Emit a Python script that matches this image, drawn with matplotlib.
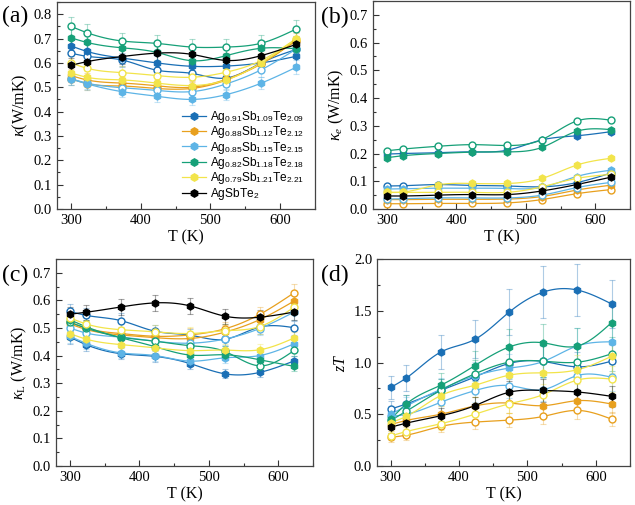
import numpy as np
import matplotlib
matplotlib.use('Agg')
import matplotlib.pyplot as plt
from matplotlib.ticker import MultipleLocator

plt.rcParams['font.family'] = ['Liberation Serif', 'DejaVu Serif']
plt.rcParams['mathtext.fontset'] = 'custom'
plt.rcParams['mathtext.rm'] = 'Liberation Serif'
plt.rcParams['mathtext.it'] = 'Liberation Serif:italic'
plt.rcParams['mathtext.sf'] = 'Liberation Sans'

# ---------------- data ----------------
T = [300, 323, 373, 423, 473, 523, 573, 623]

names = [r'Ag$_{\mathsf{0.91}}$Sb$_{\mathsf{1.09}}$Te$_{\mathsf{2.09}}$',
         r'Ag$_{\mathsf{0.88}}$Sb$_{\mathsf{1.12}}$Te$_{\mathsf{2.12}}$',
         r'Ag$_{\mathsf{0.85}}$Sb$_{\mathsf{1.15}}$Te$_{\mathsf{2.15}}$',
         r'Ag$_{\mathsf{0.82}}$Sb$_{\mathsf{1.18}}$Te$_{\mathsf{2.18}}$',
         r'Ag$_{\mathsf{0.79}}$Sb$_{\mathsf{1.21}}$Te$_{\mathsf{2.21}}$',
         r'AgSbTe$_{\mathsf{2}}$']
colors = ['#1a6fb5', '#e8a01e', '#5db4e6', '#16a078', '#f2e44a', '#000000']

# (a) total thermal conductivity
a_091_f = [0.670, 0.647, 0.620, 0.600, 0.586, 0.587, 0.600, 0.627]
a_091_o = [0.640, 0.627, 0.612, 0.570, 0.557, 0.538, 0.600, 0.655]
a_088_f = [0.548, 0.530, 0.517, 0.506, 0.500, 0.533, 0.596, 0.694]
a_088_o = [0.535, 0.515, 0.505, 0.495, 0.495, 0.530, 0.600, 0.690]
a_085_f = [0.534, 0.514, 0.482, 0.463, 0.450, 0.470, 0.517, 0.582]
a_085_o = [0.535, 0.517, 0.498, 0.487, 0.482, 0.514, 0.572, 0.657]
a_082_f = [0.703, 0.684, 0.662, 0.643, 0.609, 0.630, 0.660, 0.658]
a_082_o = [0.750, 0.724, 0.690, 0.680, 0.665, 0.665, 0.681, 0.739]
a_079_f = [0.559, 0.541, 0.530, 0.517, 0.507, 0.530, 0.600, 0.697]
a_079_o = [0.600, 0.578, 0.560, 0.548, 0.541, 0.562, 0.610, 0.700]
a_ast = [0.590, 0.605, 0.626, 0.640, 0.635, 0.610, 0.630, 0.676]

# (b) electronic thermal conductivity
b_091_f = [0.198, 0.200, 0.203, 0.206, 0.212, 0.249, 0.264, 0.279]
b_091_o = [0.083, 0.084, 0.088, 0.085, 0.083, 0.080, 0.095, 0.130]
b_088_f = [0.034, 0.034, 0.035, 0.035, 0.036, 0.045, 0.068, 0.086]
b_088_o = [0.019, 0.019, 0.020, 0.020, 0.022, 0.034, 0.055, 0.070]
b_085_f = [0.072, 0.073, 0.075, 0.075, 0.074, 0.078, 0.117, 0.140]
b_085_o = [0.036, 0.037, 0.040, 0.040, 0.040, 0.050, 0.077, 0.096]
b_082_f = [0.185, 0.192, 0.200, 0.205, 0.206, 0.222, 0.280, 0.286]
b_082_o = [0.210, 0.216, 0.226, 0.232, 0.229, 0.250, 0.317, 0.320]
b_079_f = [0.060, 0.061, 0.087, 0.092, 0.092, 0.110, 0.158, 0.183]
b_079_o = [0.060, 0.060, 0.060, 0.060, 0.060, 0.080, 0.110, 0.125]
b_ast = [0.047, 0.047, 0.050, 0.052, 0.052, 0.065, 0.088, 0.115]

# (c) lattice thermal conductivity
c_091_f = [0.467, 0.440, 0.407, 0.397, 0.371, 0.334, 0.339, 0.381]
c_091_o = [0.560, 0.546, 0.527, 0.488, 0.474, 0.459, 0.503, 0.501]
c_088_f = [0.515, 0.495, 0.475, 0.465, 0.462, 0.485, 0.530, 0.598]
c_088_o = [0.522, 0.500, 0.480, 0.470, 0.475, 0.497, 0.549, 0.628]
c_085_f = [0.470, 0.445, 0.410, 0.400, 0.380, 0.392, 0.400, 0.443]
c_085_o = [0.500, 0.482, 0.467, 0.452, 0.445, 0.460, 0.498, 0.558]
c_082_f = [0.530, 0.505, 0.465, 0.432, 0.402, 0.403, 0.385, 0.361]
c_082_o = [0.520, 0.500, 0.467, 0.452, 0.436, 0.415, 0.363, 0.419]
c_079_f = [0.480, 0.460, 0.440, 0.428, 0.418, 0.420, 0.421, 0.464]
c_079_o = [0.537, 0.515, 0.494, 0.486, 0.480, 0.490, 0.505, 0.576]
c_ast = [0.550, 0.557, 0.576, 0.591, 0.580, 0.543, 0.539, 0.558]

# (d) zT
d_091_f = [0.760, 0.851, 1.100, 1.223, 1.485, 1.680, 1.700, 1.566]
d_091_o = [0.550, 0.600, 0.730, 0.860, 0.990, 1.010, 0.958, 1.013]
d_088_f = [0.400, 0.440, 0.500, 0.580, 0.608, 0.583, 0.631, 0.599]
d_088_o = [0.278, 0.298, 0.382, 0.424, 0.443, 0.479, 0.537, 0.453]
d_085_f = [0.500, 0.580, 0.740, 0.870, 0.945, 1.010, 1.160, 1.200]
d_085_o = [0.480, 0.500, 0.615, 0.728, 0.777, 0.738, 0.874, 0.858]
d_082_f = [0.450, 0.600, 0.780, 0.970, 1.149, 1.190, 1.159, 1.385]
d_082_o = [0.440, 0.530, 0.730, 0.890, 1.003, 1.013, 1.003, 1.084]
d_079_f = [0.420, 0.480, 0.680, 0.780, 0.877, 0.900, 0.930, 1.060]
d_079_o = [0.290, 0.333, 0.408, 0.500, 0.600, 0.690, 0.830, 0.840]
d_ast = [0.375, 0.414, 0.485, 0.583, 0.712, 0.730, 0.715, 0.673]

# relative measurement uncertainty per panel
err_a, err_b, err_c, err_d = 0.05, 0.0, 0.05, 0.15


def nat_spline(x, y, n=120):
    x = np.asarray(x, float); y = np.asarray(y, float)
    h = np.diff(x); m = len(x)
    A = np.zeros((m, m)); r = np.zeros(m)
    A[0, 0] = A[-1, -1] = 1
    for i in range(1, m - 1):
        A[i, i - 1] = h[i - 1]; A[i, i] = 2 * (h[i - 1] + h[i]); A[i, i + 1] = h[i]
        r[i] = 6 * ((y[i + 1] - y[i]) / h[i] - (y[i] - y[i - 1]) / h[i - 1])
    M = np.linalg.solve(A, r)
    xs = np.linspace(x[0], x[-1], n)
    idx = np.clip(np.searchsorted(x, xs) - 1, 0, m - 2)
    x0, x1 = x[idx], x[idx + 1]; hh = x1 - x0
    t0, t1 = x1 - xs, xs - x0
    ys = (M[idx] * t0 ** 3 + M[idx + 1] * t1 ** 3) / (6 * hh) \
        + (y[idx] / hh - M[idx] * hh / 6) * t0 + (y[idx + 1] / hh - M[idx + 1] * hh / 6) * t1
    return xs, ys


W, H = 635, 505
fig = plt.figure(figsize=(W / 100, H / 100), dpi=100)

def add_ax(l, t, r, b):
    return fig.add_axes([l / W, 1 - b / H, (r - l) / W, (b - t) / H])

axa = add_ax(57, 2, 315, 209)
axb = add_ax(373, 1, 630, 209)
axc = add_ax(56, 259, 313, 466)
axd = add_ax(377, 259, 630, 466)

panels = [
    (axa, [(a_091_f, a_091_o), (a_088_f, a_088_o), (a_085_f, a_085_o), (a_082_f, a_082_o), (a_079_f, a_079_o), (a_ast, None)], err_a, 0.85, 0.1, 0.05, r'$\kappa$(W/mK)', '(a)'),
    (axb, [(b_091_f, b_091_o), (b_088_f, b_088_o), (b_085_f, b_085_o), (b_082_f, b_082_o), (b_079_f, b_079_o), (b_ast, None)], err_b, 0.75, 0.1, 0.05, r'$\kappa_e$ (W/mK)', '(b)'),
    (axc, [(c_091_f, c_091_o), (c_088_f, c_088_o), (c_085_f, c_085_o), (c_082_f, c_082_o), (c_079_f, c_079_o), (c_ast, None)], err_c, 0.75, 0.1, 0.05, r'$\kappa_{\mathrm{L}}$ (W/mK)', '(c)'),
    (axd, [(d_091_f, d_091_o), (d_088_f, d_088_o), (d_085_f, d_085_o), (d_082_f, d_082_o), (d_079_f, d_079_o), (d_ast, None)], err_d, 2.0, 0.5, 0.25, r'$zT$', '(d)'),
]

for ax, series, rel, ytop, ymaj, ymin, ylab, plab in panels:
    for i, (sf, so) in enumerate(series):
        c = colors[i]
        for vals, filled in ((so, False), (sf, True)):
            if vals is None:
                continue
            v = np.asarray(vals)
            if rel > 0:
                ax.errorbar(T, v, yerr=rel * v, fmt='none', ecolor=c, alpha=0.35,
                            elinewidth=0.8, capsize=2, capthick=0.8, zorder=1)
            xs, ys = nat_spline(T, v)
            ax.plot(xs, ys, color=c, lw=0.9, zorder=2)
            if filled:
                ax.plot(T, v, ls='none', marker='h', ms=5.3, mfc=c, mec=c, mew=0.8, zorder=3)
            else:
                ax.plot(T, v, ls='none', marker='o', ms=5.0, mfc='white', mec=c, mew=1.0, zorder=3)
    ax.set_xlim(280, 650)
    ax.set_ylim(0, ytop)
    ax.xaxis.set_major_locator(MultipleLocator(100))
    ax.xaxis.set_minor_locator(MultipleLocator(50))
    ax.yaxis.set_major_locator(MultipleLocator(ymaj))
    ax.yaxis.set_minor_locator(MultipleLocator(ymin))
    ax.tick_params(which='both', direction='in', top=False, right=False, labelsize=10.5,
                   color='#333333')
    ax.tick_params(which='major', length=4, width=0.8)
    ax.tick_params(which='minor', length=2, width=0.8)
    if ytop == 2.0:
        ax.yaxis.set_major_formatter(matplotlib.ticker.FormatStrFormatter('%.1f'))
    for s in ax.spines.values():
        s.set_color('#444444'); s.set_linewidth(0.9)
    ax.set_xlabel('T (K)', fontsize=11.5, labelpad=2)
    ax.set_ylabel(ylab, fontsize=11.5, labelpad=3)

# panel labels
fig.text(2 / W, 1 - 22 / H, '(a)', fontsize=17)
fig.text(321 / W, 1 - 23 / H, '(b)', fontsize=17)
fig.text(2 / W, 1 - 281 / H, '(c)', fontsize=17)
fig.text(321 / W, 1 - 281 / H, '(d)', fontsize=17)

# legend in (a)
handles = []
for i in range(6):
    h, = axa.plot([], [], color=colors[i], lw=0.9, marker='h', ms=5.3, mfc=colors[i], mec=colors[i])
    handles.append(h)
axa.legend(handles, names, loc='lower right', bbox_to_anchor=(0.985, 0.0), frameon=False,
           prop={'family': 'Liberation Sans', 'size': 8.6}, handlelength=2.0,
           handletextpad=0.35, labelspacing=-0.05, borderaxespad=0.2)

fig.savefig('out.png', dpi=100)
